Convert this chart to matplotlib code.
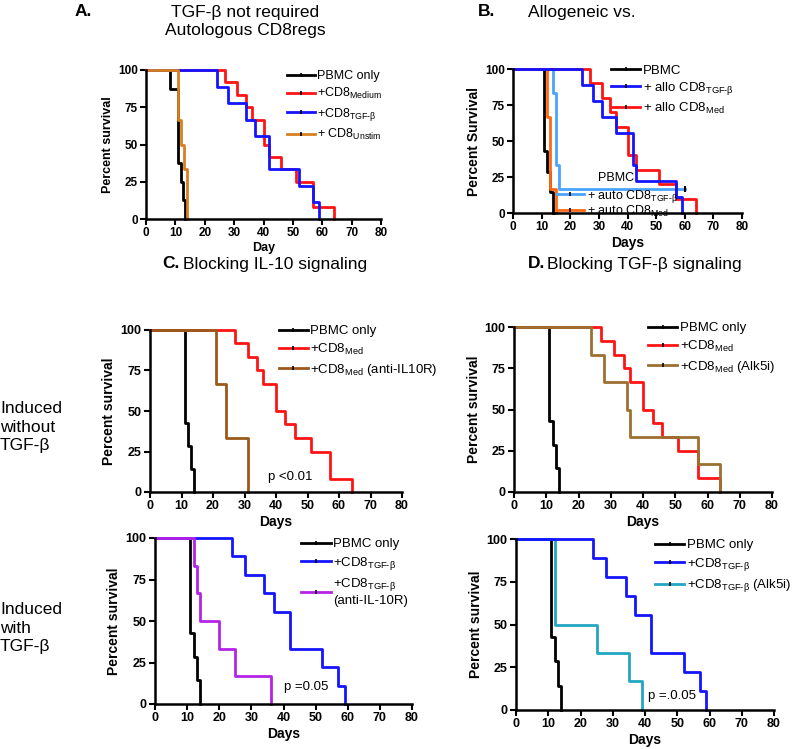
import matplotlib
matplotlib.use("Agg")
import matplotlib.pyplot as plt
from matplotlib.lines import Line2D

plt.rcParams["font.family"] = ["Liberation Sans", "DejaVu Sans"]
plt.rcParams["mathtext.fontset"] = "custom"
plt.rcParams["mathtext.rm"] = "Liberation Sans"
plt.rcParams["mathtext.it"] = "Liberation Sans:italic"
plt.rcParams["mathtext.bf"] = "Liberation Sans:bold"

# ── Survival curves: day of each step and % surviving after it ───────────────
# A. TGF-b not required, autologous CD8regs
a_pbmc_t = [0, 8, 11, 12, 12.6, 13.3]
a_pbmc_s = [100, 87.5, 37.5, 25, 12.5, 0]
a_med_t = [0, 27, 31, 34, 36, 40, 42, 46, 51, 57, 64]
a_med_s = [100, 91.7, 83.3, 75, 66.7, 50, 41.7, 33.3, 25, 8.3, 0]
a_tgf_t = [0, 24, 28, 34, 37, 42, 52, 57, 59]
a_tgf_s = [100, 88.9, 77.8, 66.7, 55.6, 33.3, 22.2, 11.1, 0]
a_unst_t = [0, 11, 12, 13, 14]
a_unst_s = [100, 66.7, 50, 33.3, 0]

# B. allogeneic vs autologous
b_pbmc_t = [0, 11, 12, 13, 14]
b_pbmc_s = [100, 42.9, 28.6, 14.3, 0]
b_allo_tgf_t = [0, 24, 28, 31, 36, 42, 43, 57, 59]
b_allo_tgf_s = [100, 88.9, 77.8, 66.7, 55.6, 33.3, 22.2, 11.1, 0]
b_allo_med_t = [0, 27, 31, 34, 36, 40, 43, 51, 57, 64]
b_allo_med_s = [100, 90, 80, 70, 60, 40, 30, 20, 10, 0]
b_auto_tgf_t = [0, 14, 15, 16, 60]
b_auto_tgf_s = [100, 83.3, 33.3, 16.7, 16.7]
b_auto_med_t = [0, 12, 13, 15]
b_auto_med_s = [100, 66.7, 16.7, 0]

# C. blocking IL-10 signalling
c1_pbmc_t = [0, 11, 12, 13, 14]
c1_pbmc_s = [100, 42.9, 28.6, 14.3, 0]
c1_med_t = [0, 27, 31, 34, 36, 40, 43, 46, 51, 57, 64]
c1_med_s = [100, 91.7, 83.3, 75, 66.7, 50, 41.7, 33.3, 25, 8.3, 0]
c1_il10r_t = [0, 21, 24, 31]
c1_il10r_s = [100, 66.7, 33.3, 0]

c2_pbmc_t = [0, 11, 12, 13, 14]
c2_pbmc_s = [100, 42.9, 28.6, 14.3, 0]
c2_tgf_t = [0, 24, 28, 34, 37, 42, 52, 57, 59]
c2_tgf_s = [100, 88.9, 77.8, 66.7, 55.6, 33.3, 22.2, 11.1, 0]
c2_il10r_t = [0, 12, 13, 14, 20, 25, 36]
c2_il10r_s = [100, 83.3, 66.7, 50, 33.3, 16.7, 0]

# D. blocking TGF-b signalling
d1_pbmc_t = [0, 11, 12, 13, 14]
d1_pbmc_s = [100, 42.9, 28.6, 14.3, 0]
d1_med_t = [0, 27, 31, 34, 36, 40, 43, 46, 51, 57, 64]
d1_med_s = [100, 91.7, 83.3, 75, 66.7, 50, 41.7, 33.3, 25, 8.3, 0]
d1_alk_t = [0, 24, 28, 35, 36, 57, 64]
d1_alk_s = [100, 83.3, 66.7, 50, 33.3, 16.7, 0]

d2_pbmc_t = [0, 11, 12, 13, 14]
d2_pbmc_s = [100, 42.9, 28.6, 14.3, 0]
d2_tgf_t = [0, 24, 28, 34, 37, 42, 52, 57, 59]
d2_tgf_s = [100, 88.9, 77.8, 66.7, 55.6, 33.3, 22.2, 11.1, 0]
d2_alk_t = [0, 12, 25, 35, 39]
d2_alk_s = [100, 50, 33.3, 16.7, 0]

x_ticks = [0, 10, 20, 30, 40, 50, 60, 70, 80]
y_ticks = [0, 25, 50, 75, 100]

RED = "#ff1414"
BLUE = "#1414ff"
ORANGE_A = "#d88020"
ORANGE_B = "#ff6a10"
LIGHTBLUE = "#4aa4ff"
BROWN_C = "#9a5a1c"
BROWN_D = "#9c7030"
PURPLE = "#b422e6"
TEAL = "#22a6c2"

MED = "$_{\\mathrm{Med}}$"
TGF = "$_{\\text{TGF-β}}$"

W, H = 800, 749
fig = plt.figure(figsize=(W / 100, H / 100), dpi=100)


def make_ax(x0, x1, y0, y1):
    # pixel box -> figure fraction
    return fig.add_axes([x0 / W, 1 - y1 / H, (x1 - x0) / W, (y1 - y0) / H])


def draw(ax, curves, xlabel, ylabel, tsize=8.5, lsize=9):
    for t, s, c in curves:
        ax.step(t, s, where="post", color=c, lw=2, clip_on=False)
    ax.set_xlim(0, 80)
    ax.set_ylim(0, 100)
    ax.set_xticks(x_ticks)
    ax.set_yticks(y_ticks)
    for sp in ["top", "right"]:
        ax.spines[sp].set_visible(False)
    for sp in ["left", "bottom"]:
        ax.spines[sp].set_linewidth(1.8)
    ax.tick_params(direction="out", length=4, width=1.5, labelsize=tsize, pad=2)
    for lab in ax.get_xticklabels() + ax.get_yticklabels():
        lab.set_fontweight("bold")
    ax.set_xlabel(xlabel, fontsize=lsize, fontweight="bold", labelpad=2)
    ax.set_ylabel(ylabel, fontsize=lsize, fontweight="bold", labelpad=3)


def legend(ax, items, x, y, size=9, spacing=0.35):
    handles = [Line2D([], [], color=c, lw=2, marker="|", markersize=3,
                      markeredgecolor="black", markeredgewidth=1.2)
               for c, _ in items]
    labels = [l for _, l in items]
    leg = ax.legend(handles, labels, loc="upper left", bbox_to_anchor=(x, y),
                    frameon=False, fontsize=size, handlelength=2.2,
                    handletextpad=0.2, labelspacing=spacing, borderpad=0,
                    borderaxespad=0, numpoints=1)
    return leg


# ── A ─────────────────────────────────────────────────────────────────────────
axA = make_ax(146, 381, 70, 219)
draw(axA, [(a_pbmc_t, a_pbmc_s, "black"), (a_med_t, a_med_s, RED),
           (a_tgf_t, a_tgf_s, BLUE), (a_unst_t, a_unst_s, ORANGE_A)],
     "Day", "Percent survival")
legend(axA, [("black", "PBMC only"), (RED, "+CD8$_{\\mathrm{Medium}}$"),
             (BLUE, "+CD8" + TGF), (ORANGE_A, "+ CD8$_{\\mathrm{Unstim}}$")],
       0.60, 1.0, size=9, spacing=0.35)
fig.text(75 / W, 1 - 12 / H, "A.", fontsize=12.5, fontweight="bold", va="center")
fig.text(245 / W, 1 - 12 / H, "TGF-β not required", fontsize=12.5,
         ha="center", va="center")
fig.text(245 / W, 1 - 30 / H, "Autologous CD8regs", fontsize=12.5,
         ha="center", va="center")

# ── B ─────────────────────────────────────────────────────────────────────────
axB = make_ax(513, 742, 69, 213)
draw(axB, [(b_pbmc_t, b_pbmc_s, "black"), (b_auto_med_t, b_auto_med_s, ORANGE_B),
           (b_auto_tgf_t, b_auto_tgf_s, LIGHTBLUE), (b_allo_med_t, b_allo_med_s, RED),
           (b_allo_tgf_t, b_allo_tgf_s, BLUE)],
     "Days", "Percent Survival", lsize=10)
axB.plot(b_auto_tgf_t[-1:], b_auto_tgf_s[-1:], marker="|", color="black",
         markersize=4, mew=1.5, clip_on=False)
legB = legend(axB, [("black", "PBMC"), (BLUE, "+ allo CD8" + TGF),
                    (RED, "+ allo CD8" + MED)], 0.43, 1.03, size=9.5, spacing=0.25)
axB.add_artist(legB)
legend(axB, [(LIGHTBLUE, "+ auto CD8" + TGF), (ORANGE_B, "+ auto CD8" + MED)],
       0.19, 0.175, size=9, spacing=-0.1)
axB.text(0.45, 0.24, "PBMC", transform=axB.transAxes, fontsize=9,
         ha="center", va="center")
fig.text(478 / W, 1 - 12 / H, "B.", fontsize=12.5, fontweight="bold", va="center")
fig.text(528 / W, 1 - 12 / H, "Allogeneic vs.", fontsize=12.5, va="center")

# ── C ─────────────────────────────────────────────────────────────────────────
axC1 = make_ax(150, 402, 330, 492)
draw(axC1, [(c1_pbmc_t, c1_pbmc_s, "black"), (c1_med_t, c1_med_s, RED),
            (c1_il10r_t, c1_il10r_s, BROWN_C)],
     "Days", "Percent survival", tsize=9, lsize=10)
legend(axC1, [("black", "PBMC only"), (RED, "+CD8" + MED),
              (BROWN_C, "+CD8" + MED + " (anti-IL10R)")], 0.51, 1.03, size=9.5)
axC1.text(0.47, 0.09, "p <0.01", transform=axC1.transAxes, fontsize=9.5, va="center")
fig.text(162 / W, 1 - 264 / H, "C.", fontsize=12.5, fontweight="bold", va="center")
fig.text(183 / W, 1 - 264 / H, "Blocking IL-10 signaling", fontsize=12.5, va="center")

axC2 = make_ax(155, 412, 538, 704)
draw(axC2, [(c2_pbmc_t, c2_pbmc_s, "black"), (c2_tgf_t, c2_tgf_s, BLUE),
            (c2_il10r_t, c2_il10r_s, PURPLE)],
     "Days", "Percent survival", tsize=9, lsize=10)
legend(axC2, [("black", "PBMC only"), (BLUE, "+CD8" + TGF),
              (PURPLE, "+CD8" + TGF + "\n(anti-IL-10R)")], 0.57, 1.0, size=9.5)
axC2.text(0.5, 0.1, "p =0.05", transform=axC2.transAxes, fontsize=9.5, va="center")

# ── D ─────────────────────────────────────────────────────────────────────────
axD1 = make_ax(514, 772, 327, 492)
draw(axD1, [(d1_pbmc_t, d1_pbmc_s, "black"), (d1_med_t, d1_med_s, RED),
            (d1_alk_t, d1_alk_s, BROWN_D)],
     "Days", "Percent survival", tsize=9, lsize=10)
legend(axD1, [("black", "PBMC only"), (RED, "+CD8" + MED),
              (BROWN_D, "+CD8" + MED + " (Alk5i)")], 0.52, 1.03, size=9.5)
fig.text(528 / W, 1 - 264 / H, "D.", fontsize=12.5, fontweight="bold", va="center")
fig.text(547 / W, 1 - 264 / H, "Blocking TGF-β signaling", fontsize=12.5, va="center")

axD2 = make_ax(516, 774, 539, 710)
draw(axD2, [(d2_pbmc_t, d2_pbmc_s, "black"), (d2_alk_t, d2_alk_s, TEAL),
            (d2_tgf_t, d2_tgf_s, BLUE)],
     "Days", "Percent survival", tsize=9, lsize=10)
legend(axD2, [("black", "PBMC only"), (BLUE, "+CD8" + TGF),
              (TEAL, "+CD8" + TGF + " (Alk5i)")], 0.54, 1.0, size=9.5)
axD2.text(0.51, 0.08, "p =.0.05", transform=axD2.transAxes, fontsize=9.5, va="center")

# ── row labels ────────────────────────────────────────────────────────────────
fig.text(0.0, 1 - 401 / H, "Induced\nwithout\nTGF-β", fontsize=12.5, va="top",
         linespacing=1.3)
fig.text(0.0, 1 - 602 / H, "Induced\nwith\nTGF-β", fontsize=12.5, va="top",
         linespacing=1.3)

fig.savefig("out.png", dpi=100)
